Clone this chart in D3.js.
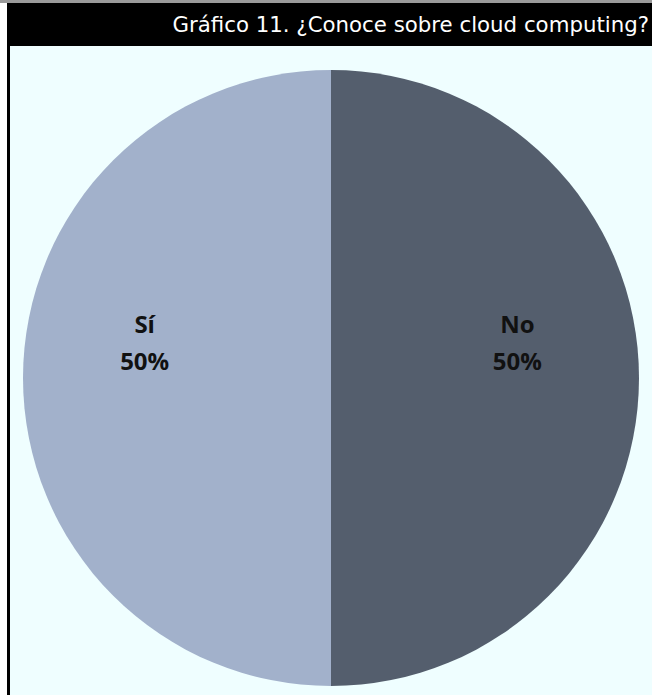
<!DOCTYPE html>
<html>
<head>
<meta charset="utf-8">
<script src="https://cdn.jsdelivr.net/npm/d3@7"></script>
<style>
  body { margin: 0; background: #ffffff; }
  svg { display: block; }
</style>
</head>
<body>
<svg id="chart" width="652" height="695"></svg>
<script>
const title = "Gráfico 11. ¿Conoce sobre cloud computing?";
const labels = ["No", "Sí"];
const values = [50, 50];
const colors = ["#545e6d", "#a2b1cb"];

const size = { width: 652, height: 695, cx: 331, cy: 378, radius: 308 };

const svg = d3.select("#chart");

// frame
svg.append("rect")
  .attr("x", 0).attr("y", 0)
  .attr("width", size.width).attr("height", 3)
  .attr("fill", "#9a9a9a");
svg.append("rect")
  .attr("x", 7).attr("y", 3)
  .attr("width", size.width - 7).attr("height", 43)
  .attr("fill", "#000");
svg.append("rect")
  .attr("x", 7).attr("y", 46)
  .attr("width", 3).attr("height", size.height - 46)
  .attr("fill", "#000");
svg.append("rect")
  .attr("x", 10).attr("y", 46)
  .attr("width", size.width - 10).attr("height", size.height - 46)
  .attr("fill", "#effeff");

svg.append("text")
  .attr("x", 649).attr("y", 32)
  .attr("text-anchor", "end")
  .style("font-family", "DejaVu Sans, Verdana, sans-serif")
  .style("font-size", "21.3px")
  .style("fill", "#fff")
  .text(title);

const data = labels.map((label, i) => ({ label, value: values[i], color: colors[i] }));

const createPie = d3.pie().value(d => d.value).sort(null);
const createArc = d3.arc().innerRadius(0).outerRadius(size.radius);
const labelArc = d3.arc().innerRadius(size.radius * 0.605).outerRadius(size.radius * 0.605);

const g = svg.append("g")
  .attr("transform", `translate(${size.cx},${size.cy})`);

const arcs = g.selectAll("g.arc")
  .data(createPie(data))
  .enter()
  .append("g")
  .attr("class", "arc");

arcs.append("path")
  .attr("d", createArc)
  .attr("fill", d => d.data.color);

const text = arcs.append("text")
  .attr("transform", d => {
    const [x, y] = labelArc.centroid(d);
    return `translate(${x},${y - 45})`;
  })
  .attr("text-anchor", "middle")
  .style("font-family", "Open Sans, sans-serif")
  .style("font-size", "24px")
  .style("font-weight", "bold")
  .style("fill", "#111");

text.append("tspan").attr("x", 0).attr("dy", 0).text(d => d.data.label);
text.append("tspan").attr("x", 0).attr("dy", 37).text(d => `${d.data.value}%`);
</script>
</body>
</html>
